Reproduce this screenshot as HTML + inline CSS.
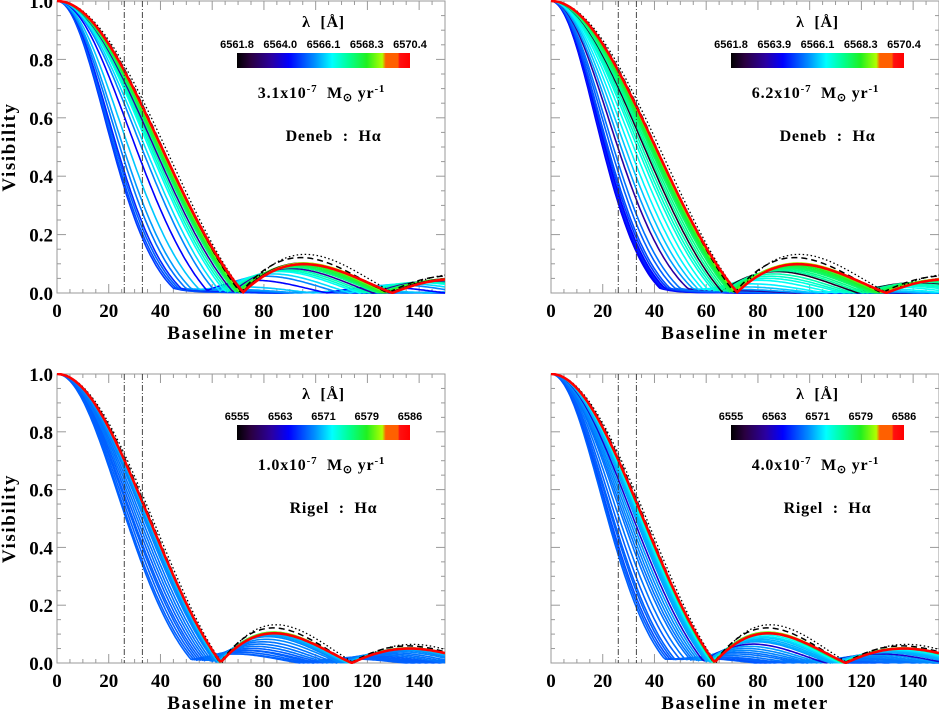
<!DOCTYPE html>
<html><head><meta charset="utf-8">
<style>
html,body{margin:0;padding:0;background:#fff;}
svg{display:block;font-family:"Liberation Serif",serif;}
.tk{font-size:19px;font-weight:bold;}
.ti{font-size:19px;font-weight:bold;letter-spacing:1.6px;}
.cb{font-family:"Liberation Sans",sans-serif;font-size:11px;font-weight:bold;}
.an{font-size:16px;font-weight:bold;letter-spacing:0.8px;white-space:pre;}
</style></head>
<body>
<svg id="fig" width="939" height="711" viewBox="0 0 939 711">
<defs>
<linearGradient id="jet" x1="0" x2="1" y1="0" y2="0">
<stop offset="0" stop-color="#000000"/><stop offset="0.08" stop-color="#2a0040"/><stop offset="0.2" stop-color="#2a00a0"/>
<stop offset="0.3" stop-color="#0000ff"/><stop offset="0.45" stop-color="#0090ff"/><stop offset="0.55" stop-color="#00ffff"/>
<stop offset="0.65" stop-color="#00ff90"/><stop offset="0.75" stop-color="#20f020"/><stop offset="0.84" stop-color="#b0ff00"/>
<stop offset="0.86" stop-color="#ff6000"/><stop offset="0.93" stop-color="#ff6000"/><stop offset="0.94" stop-color="#ff1010"/><stop offset="1" stop-color="#ff0000"/>
</linearGradient>
<clipPath id="c0"><rect x="57" y="0" width="388" height="294"/></clipPath>
<clipPath id="c1"><rect x="551" y="0" width="388" height="294"/></clipPath>
<clipPath id="c2"><rect x="57" y="373" width="388" height="291"/></clipPath>
<clipPath id="c3"><rect x="551" y="373" width="388" height="291"/></clipPath>
</defs>
</svg>
<script>
// ---- data ----
const xTicks = [0,20,40,60,80,100,120,140];
const yTicks = [0.0,0.2,0.4,0.6,0.8,1.0];
const baselineMarks = [26,33];
const panelTitles = ["Deneb : Hα","Deneb : Hα","Rigel : Hα","Rigel : Hα"];
const massRates = ["3.1","6.2","1.0","4.0"];
const cbLabels0 = ["6561.8","6564.0","6566.1","6568.3","6570.4"];
const cbLabels1 = ["6561.8","6563.9","6566.1","6568.3","6570.4"];
const cbLabels2 = ["6555","6563","6571","6579","6586"];
const cbLabels3 = ["6555","6563","6571","6579","6586"];
// first-null baselines (m), colour positions, second-lobe scale
const zeros0 = [45,46,47,48,50,52,55,58,61,63,65,66,67,68,69,69.5,70,70.5,71,71.5,72];
const cols0  = [0.36,0.38,0.40,0.34,0.42,0.46,0.50,0.30,0.44,0.52,0.56,0.60,0.62,0.20,0.66,0.70,0.72,0.76,0.80,0.05,0.84];
const lobe0  = [0.05,0.05,0.08,0.1,0.15,0.2,0.3,0.5,0.6,0.65,0.7,0.72,0.74,0.76,0.78,0.8,0.82,0.84,0.85,0.86,0.86];
const zeros1 = [42,42.5,43,43.5,44,45,46,48,50,53,55,57,59,61,63,64,65,66,67,68,69,69.5,70,70.5,71,71.5,72];
const cols1  = [0.28,0.30,0.32,0.34,0.30,0.36,0.38,0.40,0.42,0.20,0.46,0.50,0.54,0.56,0.58,0.60,0.62,0.05,0.64,0.66,0.68,0.70,0.72,0.74,0.78,0.82,0.84];
const lobe1  = [0.03,0.03,0.03,0.04,0.04,0.05,0.06,0.08,0.1,0.15,0.2,0.3,0.4,0.5,0.55,0.6,0.65,0.7,0.72,0.74,0.76,0.78,0.8,0.82,0.84,0.85,0.86];
const zeros2 = [52,53,54,55,56,57,58,59,60,61,61.5,62,62.3,62.6,63,63.3];
const cols2  = [0.40,0.40,0.40,0.40,0.40,0.40,0.42,0.42,0.42,0.44,0.44,0.46,0.48,0.50,0.70,0.80];
const lobe2  = [0.4,0.4,0.45,0.5,0.5,0.55,0.6,0.65,0.7,0.75,0.8,0.82,0.84,0.86,0.88,0.88];
const zeros3 = [44,45,46,47,48,50,52,54,55,56,57,58,59,60,60.5,61,61.5,62,62.3,62.6,63,63.3];
const cols3  = [0.40,0.40,0.38,0.40,0.40,0.40,0.42,0.42,0.42,0.44,0.44,0.46,0.25,0.46,0.48,0.48,0.50,0.52,0.56,0.66,0.75,0.82];
const lobe3  = [0.25,0.25,0.25,0.3,0.3,0.3,0.35,0.4,0.45,0.5,0.55,0.6,0.65,0.7,0.72,0.75,0.78,0.8,0.83,0.86,0.88,0.88];
const refZero = [71,71,63,63];   // dashed black reference
const dotZero = [72.3,72.3,63.8,63.8]; // dotted black reference
const redZero = [72,72,63.3,63.3]; // thick red
const redLobe = [0.84,0.84,0.86,0.86];

const zerosAll=[zeros0,zeros1,zeros2,zeros3], colsAll=[cols0,cols1,cols2,cols3], lobeAll=[lobe0,lobe1,lobe2,lobe3];
const cbAll=[cbLabels0,cbLabels1,cbLabels2,cbLabels3];
const panels=[{x0:57,x1:445,y0:293,y1:1,cl:'c0',top:true,left:true},
  {x0:551,x1:939,y0:293,y1:1,cl:'c1',top:true,left:false},
  {x0:57,x1:445,y0:663,y1:374,cl:'c2',top:false,left:true},
  {x0:551,x1:939,y0:663,y1:374,cl:'c3',top:false,left:false}];

const NS='http://www.w3.org/2000/svg';
const svg=document.getElementById('fig');
function mk(t,a,p){const e=document.createElementNS(NS,t);for(const k in a)e.setAttribute(k,a[k]);(p||svg).appendChild(e);return e;}
function J1(x){let s=0,N=60;for(let i=0;i<N;i++){const t=(i+0.5)*Math.PI/N;s+=Math.cos(t-x*Math.sin(t));}return s/N;}
const Z1=3.8317, Z2=7.0156, KS=(Z2-Z1)/(0.80*Z1);
function ud(B,z){let x=Z1*B/z;if(x>Z1)x=Z1+(x-Z1)*KS;if(x<1e-6)return 1;return 2*J1(x)/x;}
function vis(B,z,lobe){
  const u=ud(B,z);
  const g=Math.max(0,(1-lobe)*0.7);
  const gau=Math.exp(-Math.pow(B/(z*0.52),2));
  const x=Z1*B/z;
  if(x>Z1) return Math.abs(u)*lobe*(1-g)+g*gau;
  return (1-g)*u+g*gau;
}
const stops=[[0,[0,0,0]],[0.08,[42,0,64]],[0.2,[42,0,160]],[0.3,[0,0,255]],[0.45,[0,144,255]],[0.55,[0,255,255]],[0.65,[0,255,144]],[0.75,[32,240,32]],[0.84,[176,255,0]],[0.86,[255,96,0]],[0.93,[255,96,0]],[1,[255,0,0]]];
function cmap(t){for(let i=1;i<stops.length;i++){if(t<=stops[i][0]){const a=stops[i-1],b=stops[i],f=(t-a[0])/(b[0]-a[0]);const c=a[1].map((v,j)=>Math.round(v+(b[1][j]-v)*f));return `rgb(${c})`;}}return 'rgb(255,0,0)';}

panels.forEach((P,pi)=>{
  const g=mk('g',{});
  
  
  const sx=b=>P.x0+(P.x1-P.x0)*b/150, sy=v=>P.y0-(P.y0-P.y1)*v;
  const frame=mk('rect',{x:P.x0,y:P.y1,width:P.x1-P.x0,height:P.y0-P.y1,fill:'none',stroke:'#999','stroke-width':1},g);
  
  
  for(let b=0;b<=150;b+=5){const L=b%20==0?9:4;mk('line',{x1:sx(b),x2:sx(b),y1:P.y0,y2:P.y0-L,stroke:'#999'},g);mk('line',{x1:sx(b),x2:sx(b),y1:P.y1,y2:P.y1+L,stroke:'#999'},g);}
  for(let i=0;i<=20;i++){const v=i*0.05,L=i%4==0?9:4;mk('line',{x1:P.x0,x2:P.x0+L,y1:sy(v),y2:sy(v),stroke:'#999'},g);mk('line',{x1:P.x1,x2:P.x1-L,y1:sy(v),y2:sy(v),stroke:'#999'},g);}
  xTicks.forEach(b=>{const t=mk('text',{x:sx(b),y:P.y0+24,'text-anchor':'middle',class:'tk'},g);t.textContent=b;
    });
  if(P.left){yTicks.forEach(v=>{const t=mk('text',{x:P.x0-4,y:sy(v)+7,'text-anchor':'end',class:'tk'},g);t.textContent=v.toFixed(1);
    });
    const yt=mk('text',{x:0,y:0,transform:`translate(15,${(P.y0+P.y1)/2}) rotate(-90)`,'text-anchor':'middle',class:'ti'},g);yt.textContent='Visibility';
    }
  const xt=mk('text',{x:(P.x0+P.x1)/2,y:P.y0+46,'text-anchor':'middle',class:'ti'},g);xt.textContent='Baseline in meter';
  
  const cg=mk('g',{'clip-path':`url(#${P.cl})`},g);
  
  
  function path(z,lobe,attrs){let d='';for(let b=0;b<=150;b+=0.75){d+=(b?'L':'M')+sx(b).toFixed(1)+','+sy(vis(b,z,lobe)).toFixed(1);}return mk('path',Object.assign({d:d,fill:'none'},attrs),cg);}
  const zs=zerosAll[pi],cs=colsAll[pi],ls=lobeAll[pi];
  zs.forEach((z,i)=>{const e=path(z,ls[i],{stroke:cmap(cs[i]),'stroke-width':1.6});
    });
  let e=path(dotZero[pi],1,{stroke:'#000','stroke-width':1.3,'stroke-dasharray':'1.5,2.5'});
  
  e=path(refZero[pi],0.95,{stroke:'#000','stroke-width':1.5,'stroke-dasharray':'6,4'});
  
  e=path(redZero[pi],redLobe[pi],{stroke:'#ff0000','stroke-width':2.6});
  
  baselineMarks.forEach(b=>{const l=mk('line',{x1:sx(b),x2:sx(b),y1:P.y1,y2:P.y0,stroke:'#333','stroke-width':0.9,'stroke-dasharray':'6,2,1,2'},g);
    });
  const cbx=P.left?237:731, cbw=173, cby=P.top?53:425;
  const bar=mk('rect',{x:cbx,y:cby,width:cbw,height:15,fill:'url(#jet)'},g);
  
  cbAll[pi].forEach((s,i)=>{const t=mk('text',{x:cbx+cbw*i/4,y:cby-5,'text-anchor':'middle',class:'cb'},g);t.textContent=s;
    });
  const cx=cbx+cbw/2;
  let t=mk('text',{x:cx,y:cby-26,'text-anchor':'middle',class:'an'},g);t.textContent='λ  [Å]';
  
  t=mk('text',{x:cx-2,y:cby+45,'text-anchor':'middle',class:'an'},g);
  t.innerHTML=massRates[pi]+'x10<tspan dy="-6" font-size="11">-7</tspan><tspan dy="6">  M</tspan><tspan dy="3" font-size="11">⊙</tspan><tspan dy="-3"> yr</tspan><tspan dy="-6" font-size="11">-1</tspan>';
  
  t=mk('text',{x:cx+10,y:cby+88,'text-anchor':'middle',class:'an'},g);t.textContent='Deneb  :  Hα'.replace('Deneb',panelTitles[pi].split(' ')[0]);
  
});
</script>
</body></html>
